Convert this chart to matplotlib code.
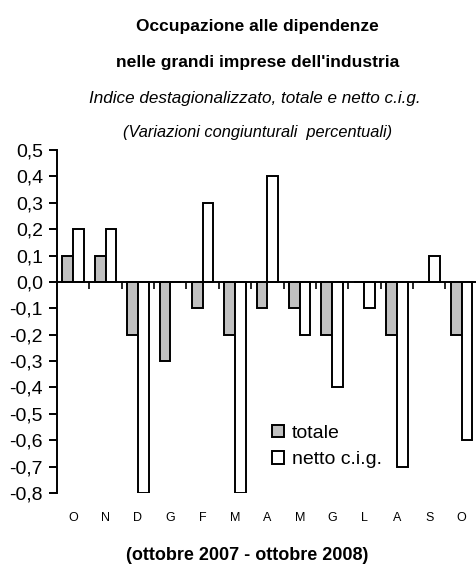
import numpy as np
import matplotlib
matplotlib.use("Agg")
import matplotlib.pyplot as plt
from matplotlib.patches import Patch
import matplotlib.transforms as mtransforms

plt.rcParams["font.family"] = ["Liberation Sans Narrow", "Liberation Sans", "DejaVu Sans"]

# data
months = ["O", "N", "D", "G", "F", "M", "A", "M", "G", "L", "A", "S", "O"]
totale = [0.1, 0.1, -0.2, -0.3, -0.1, -0.2, -0.1, -0.1, -0.2, 0.0, -0.2, 0.0, -0.2]
netto_cig = [0.2, 0.2, -0.8, 0.0, 0.3, -0.8, 0.4, -0.2, -0.4, -0.1, -0.7, 0.1, -0.6]
yticks = [0.5, 0.4, 0.3, 0.2, 0.1, 0.0, -0.1, -0.2, -0.3, -0.4, -0.5, -0.6, -0.7, -0.8]

fig = plt.figure(figsize=(4.76, 5.74), dpi=100)
ax = fig.add_axes([0.1197, 0.1411, 0.884, 0.5976])

x = np.arange(len(months))
w = 0.33
ax.bar(x - w / 2, totale, width=w, color="#c0c0c0", edgecolor="black", linewidth=1.4, label="totale")
ax.bar(x + w / 2, netto_cig, width=w, color="white", edgecolor="black", linewidth=1.4, label="netto c.i.g.")

ax.set_xlim(-0.5, len(months) - 0.5)
ax.set_ylim(-0.8, 0.5)
ax.set_yticks(yticks)
ax.set_yticklabels([f"{v:.1f}".replace(".", ",").replace("-0,0", "0,0") for v in yticks], fontsize=14)
ax.tick_params(axis="y", direction="out", length=6, width=1.4, pad=4)

ax.spines["top"].set_visible(False)
ax.spines["right"].set_visible(False)
ax.spines["bottom"].set_position(("data", 0))
ax.spines["left"].set_linewidth(1.4)
ax.spines["bottom"].set_linewidth(1.4)
ax.set_xticks(np.arange(0.5, len(months) - 0.5))
ax.set_xticklabels([])
ax.tick_params(axis="x", direction="out", length=5, width=1.2)

trans = mtransforms.blended_transform_factory(ax.transData, ax.transAxes)
for i, m in enumerate(months):
    ax.text(i, -0.073, m, transform=trans, ha="center", va="center", fontsize=9)

handles = [Patch(facecolor="#c0c0c0", edgecolor="black", linewidth=1.4, label="totale"),
           Patch(facecolor="white", edgecolor="black", linewidth=1.4, label="netto c.i.g.")]
ax.legend(handles=handles, loc="upper left", bbox_to_anchor=(0.493, 0.222), frameon=False,
          fontsize=14, handlelength=0.6, handleheight=0.6, handletextpad=0.4, labelspacing=0.5,
          borderaxespad=0)

fig.text(0.541, 1 - 27 / 574, "Occupazione alle dipendenze", ha="center", va="center", fontsize=12.5, fontweight="bold")
fig.text(0.542, 1 - 63 / 574, "nelle grandi imprese dell'industria", ha="center", va="center", fontsize=12.6, fontweight="bold")
fig.text(0.535, 1 - 99 / 574, "Indice destagionalizzato, totale e netto c.i.g.", ha="center", va="center", fontsize=12.3, style="italic")
fig.text(0.542, 1 - 133 / 574, "(Variazioni congiunturali  percentuali)", ha="center", va="center", fontsize=11.8, style="italic")
fig.text(0.52, 1 - 556 / 574, "(ottobre 2007 - ottobre 2008)", ha="center", va="center", fontsize=13, fontweight="bold")

fig.savefig("out.png", dpi=100)
